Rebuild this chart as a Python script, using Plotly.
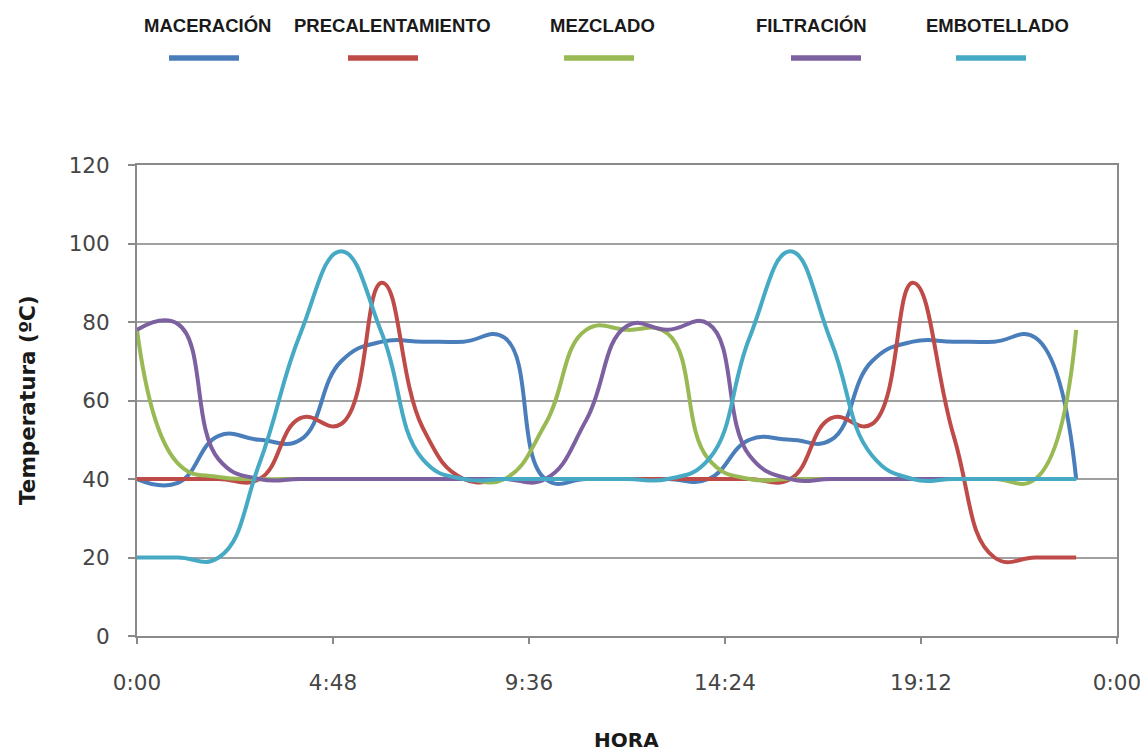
import plotly.graph_objects as go

# ---- data (hourly readings, 0..23 h) ----
hours = list(range(24))
maceracion = [40, 39, 51, 50, 50, 70, 75, 75, 75, 76, 40, 40, 40, 40, 40, 50, 50, 50, 70, 75, 75, 75, 76, 40]
precalentamiento = [40, 40, 40, 40, 55.5, 54, 90, 53, 40, 40, 40, 40, 40, 40, 40, 40, 40, 55.5, 54, 90, 51, 20, 20, 20]
mezclado = [78, 44, 40.5, 40, 40, 40, 40, 40, 40, 40, 54, 78, 78, 77, 45, 40, 40, 40, 40, 40, 40, 40, 40, 78]
filtracion = [78, 79.5, 45, 40, 40, 40, 40, 40, 40, 40, 40, 55, 79, 78, 79.5, 46, 40, 40, 40, 40, 40, 40, 40, 40]
embotellado = [20, 20, 20, 44, 77, 98, 77, 45, 40, 40, 40, 40, 40, 40, 45, 76, 98, 75, 46, 40, 40, 40, 40, 40]

series_names = ["MACERACIÓN", "PRECALENTAMIENTO", "MEZCLADO", "FILTRACIÓN", "EMBOTELLADO"]
series_values = [maceracion, precalentamiento, mezclado, filtracion, embotellado]
colors = ["#4A7EBB", "#BE4B48", "#98B954", "#7D60A0", "#46AAC5"]

x_tickvals = [0, 4.8, 9.6, 14.4, 19.2, 24]
x_ticktext = ["0:00", "4:48", "9:36", "14:24", "19:12", "0:00"]
y_tickvals = [0, 20, 40, 60, 80, 100, 120]

x_title = "HORA"
y_title = "Temperatura (ºC)"

# ---- layout geometry (page px; the page body adds an 8px offset) ----
OFF = 8
W, H = 1148 - OFF, 753 - OFF
PLOT_L, PLOT_R, PLOT_T, PLOT_B = 137, 1117, 165, 636  # page px
ML = PLOT_L - OFF
MT = PLOT_T - OFF
MR = W - (PLOT_R - OFF)
MB = H - (PLOT_B - OFF)
PW, PH = PLOT_R - PLOT_L, PLOT_B - PLOT_T

def px_to_paper_x(px):
    return (px - PLOT_L) / PW

def px_to_paper_y(py):
    return (PLOT_B - py) / PH

legend_text_x = [207, 392, 602, 811, 997]
legend_line_x = [204, 383, 599, 826, 991]
legend_text_y = 25
legend_line_y = 58
legend_line_w = 70

fig = go.Figure()
for name, vals, col in zip(series_names, series_values, colors):
    fig.add_trace(go.Scatter(
        x=hours, y=vals, name=name, mode="lines",
        line=dict(color=col, width=4, shape="spline", smoothing=1.3),
        showlegend=False,
    ))

annotations = []
shapes = []
for name, col, tx, lx in zip(series_names, colors, legend_text_x, legend_line_x):
    annotations.append(dict(
        text=f"<b>{name}</b>", x=px_to_paper_x(tx), y=px_to_paper_y(legend_text_y),
        xref="paper", yref="paper", xanchor="center", yanchor="middle", showarrow=False,
        font=dict(family="Liberation Sans, Arial, sans-serif", size=18.5, color="#1a1a1a"),
    ))
    shapes.append(dict(
        type="line", xref="paper", yref="paper",
        x0=px_to_paper_x(lx - legend_line_w / 2), x1=px_to_paper_x(lx + legend_line_w / 2),
        y0=px_to_paper_y(legend_line_y), y1=px_to_paper_y(legend_line_y),
        line=dict(color=col, width=5.5),
    ))

annotations.append(dict(
    text=f"<b>{y_title}</b>", x=px_to_paper_x(27), y=px_to_paper_y(400), xref="paper", yref="paper",
    xanchor="center", yanchor="middle", textangle=-90, showarrow=False,
    font=dict(family="DejaVu Sans, sans-serif", size=21.5, color="#1a1a1a"),
))
annotations.append(dict(
    text=f"<b>{x_title}</b>", x=px_to_paper_x(626), y=px_to_paper_y(740), xref="paper", yref="paper",
    xanchor="center", yanchor="middle", showarrow=False,
    font=dict(family="DejaVu Sans, sans-serif", size=20, color="#1a1a1a"),
))

fig.update_layout(
    width=W, height=H,
    margin=dict(l=ML, r=MR, t=MT, b=MB, autoexpand=False),
    paper_bgcolor="white", plot_bgcolor="white",
    annotations=annotations, shapes=shapes,
    showlegend=False,
)
fig.update_xaxes(
    range=[0, 24], tickvals=x_tickvals, ticktext=x_ticktext,
    showgrid=False, zeroline=False,
    showline=True, linecolor="#8a8a8a", linewidth=2, mirror=True,
    ticks="outside", ticklen=6, tickcolor="#8a8a8a", tickwidth=1.5,
    ticklabelstandoff=20,
    tickfont=dict(family="DejaVu Sans, sans-serif", size=21.5, color="#454545"),
)
fig.update_yaxes(
    range=[0, 120], tickvals=y_tickvals,
    showgrid=True, gridcolor="#a0a0a0", gridwidth=1.8, zeroline=False,
    showline=True, linecolor="#8a8a8a", linewidth=2, mirror=True,
    ticks="outside", ticklen=7, tickcolor="#8a8a8a", tickwidth=1.5,
    ticklabelstandoff=14,
    tickfont=dict(family="DejaVu Sans, sans-serif", size=21.5, color="#454545"),
)

fig.write_html("out.html")
